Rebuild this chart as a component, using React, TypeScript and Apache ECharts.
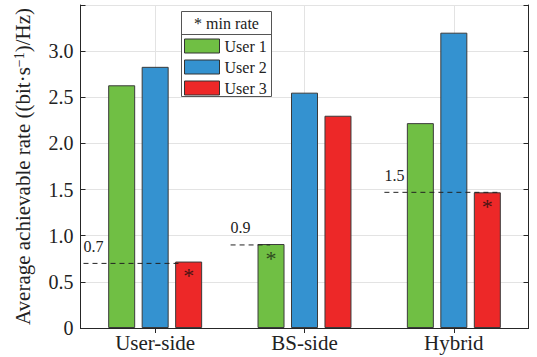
import React, { useEffect, useRef } from 'react';
import * as echarts from 'echarts';

const categories = ['User-side', 'BS-side', 'Hybrid'];
const userNames = ['User 1', 'User 2', 'User 3'];
const user1 = [2.63, 0.91, 2.22];
const user2 = [2.83, 2.55, 3.2];
const user3 = [0.72, 2.3, 1.47];
const userColors = ['#70BF44', '#3492D0', '#ED2828'];
const starColors = ['#2E4A1E', '#2A3A4A', '#4A1414'];
// which user carries the "* min rate" marker in each category
const minRateUser = [2, 0, 2];
const minRateValues = [0.7, 0.9, 1.47];
const minRateLabels = ['0.7', '0.9', '1.5'];
// dashed segment extents on a 0..3 scale spanning the three category bands
const minRateStart = [0.02, 1.005, 2.035];
const minRateEnd = [0.68, 1.27, 2.81];
const legendTitle = '* min rate';
const yName = 'Average achievable rate ((bit·s{sup|−1})/Hz)';

const FONT = 'Liberation Serif';

export default function App() {
  const ref = useRef<HTMLDivElement>(null);
  useEffect(() => {
    if (!ref.current) return;
    const chart = echarts.init(ref.current, null, { renderer: 'svg' });
    const userSeries = [user1, user2, user3];
    const bandAxisData: string[] = [];
    categories.forEach((c) => {
      bandAxisData.push('');
      bandAxisData.push(c);
    });
    bandAxisData.push('');
    const oddOnly = (i: number) => i % 2 === 1;

    const barSeries = userSeries.map((vals, ui) => ({
      name: userNames[ui],
      type: 'bar',
      xAxisIndex: 0,
      yAxisIndex: 0,
      barWidth: 27,
      barGap: '24%',
      z: 3,
      itemStyle: { color: userColors[ui], borderColor: '#3a3a3a', borderWidth: 1 },
      label: {
        show: false,
        position: 'insideTop',
        distance: 3,
        formatter: '*',
        fontFamily: FONT,
        fontSize: 22,
        color: starColors[ui],
      },
      emphasis: { disabled: true },
      data: vals.map((v, ci) =>
        minRateUser[ci] === ui ? { value: v, label: { show: true } } : { value: v }
      ),
    }));

    const lineSeries = minRateValues.map((v, i) => ({
      name: 'min' + i,
      type: 'line',
      xAxisIndex: 2,
      yAxisIndex: 0,
      z: 4,
      symbol: 'circle',
      symbolSize: 0.01,
      showSymbol: true,
      lineStyle: { color: '#222', width: 1, type: [5, 4] },
      itemStyle: { color: '#222' },
      silent: true,
      data: [
        {
          value: [minRateStart[i], v],
          label: {
            show: true,
            position: 'top',
            align: 'left',
            distance: 9,
            formatter: minRateLabels[i],
            fontFamily: FONT,
            fontSize: 16,
            color: '#222',
          },
        },
        { value: [minRateEnd[i], v] },
      ],
    }));

    chart.setOption({
      animation: false,
      textStyle: { fontFamily: FONT },
      grid: {
        left: 80.5,
        right: 8.5,
        top: 5,
        bottom: 29,
        containLabel: false,
        outerBoundsMode: 'none',
      },
      legend: {
        data: userNames,
        orient: 'vertical',
        left: 184,
        top: 38,
        padding: 0,
        itemWidth: 35,
        itemHeight: 14,
        itemGap: 5,
        icon: 'rect',
        z: 10,
        selectedMode: false,
        itemStyle: { borderColor: '#333', borderWidth: 1 },
        textStyle: { fontFamily: FONT, fontSize: 16, color: '#222' },
      },
      graphic: [
        {
          type: 'rect',
          z: 5,
          x: 181.5,
          y: 11.5,
          shape: { x: 0, y: 0, width: 90, height: 85 },
          style: { fill: '#fff', stroke: '#555', lineWidth: 1 },
        },
        {
          type: 'line',
          z: 6,
          shape: { x1: 181.5, y1: 34.5, x2: 271.5, y2: 34.5 },
          style: { stroke: '#555', lineWidth: 1 },
        },
        {
          type: 'text',
          z: 6,
          x: 226.5,
          y: 23,
          style: {
            text: legendTitle,
            fontFamily: FONT,
            fontSize: 16,
            align: 'center',
            verticalAlign: 'middle',
            fill: '#222',
          },
        },
      ],
      xAxis: [
        {
          type: 'category',
          data: categories,
          position: 'bottom',
          axisLine: { show: true, lineStyle: { color: '#262626', width: 1 } },
          axisTick: { show: true, inside: true, alignWithLabel: true, length: 5, lineStyle: { color: '#262626' } },
          axisLabel: { fontFamily: FONT, fontSize: 21, color: '#222', margin: 4 },
          splitLine: { show: false },
        },
        {
          type: 'category',
          data: bandAxisData,
          position: 'top',
          boundaryGap: false,
          axisLine: { show: true, lineStyle: { color: '#262626', width: 1 } },
          axisTick: { show: true, inside: true, length: 5, interval: oddOnly, lineStyle: { color: '#262626' } },
          axisLabel: { show: false },
          splitLine: { show: true, interval: oddOnly, lineStyle: { color: '#E3E3E3', width: 1 } },
        },
        {
          type: 'value',
          min: 0,
          max: 3,
          show: false,
          splitLine: { show: false },
        },
      ],
      yAxis: [
        {
          type: 'value',
          min: 0,
          max: 3.5,
          interval: 0.5,
          position: 'left',
          name: yName,
          nameLocation: 'middle',
          nameGap: 47,
          nameTextStyle: {
            fontFamily: FONT,
            fontSize: 21,
            color: '#222',
            rich: {
              sup: { fontFamily: FONT, fontSize: 14, color: '#222', verticalAlign: 'top', lineHeight: 14 },
            },
          },
          axisLine: { show: true, lineStyle: { color: '#262626', width: 1 } },
          axisTick: { show: true, inside: true, length: 5, lineStyle: { color: '#262626' } },
          axisLabel: {
            fontFamily: FONT,
            fontSize: 20,
            color: '#222',
            margin: 7,
            formatter: (v: number) => (v >= 3.5 ? '' : v === 0 ? '0' : v.toFixed(1)),
          },
          splitLine: { show: true, lineStyle: { color: '#E3E3E3', width: 1 } },
        },
        {
          type: 'value',
          min: 0,
          max: 3.5,
          interval: 0.5,
          position: 'right',
          axisLine: { show: true, lineStyle: { color: '#262626', width: 1 } },
          axisTick: { show: true, inside: true, length: 5, lineStyle: { color: '#262626' } },
          axisLabel: { show: false },
          splitLine: { show: false },
        },
      ],
      series: [...barSeries, ...lineSeries],
    });
    return () => chart.dispose();
  }, []);
  return (
    <div
      ref={ref}
      style={{ position: 'fixed', left: 0, top: 0, width: 537, height: 357, background: '#fff' }}
    />
  );
}
